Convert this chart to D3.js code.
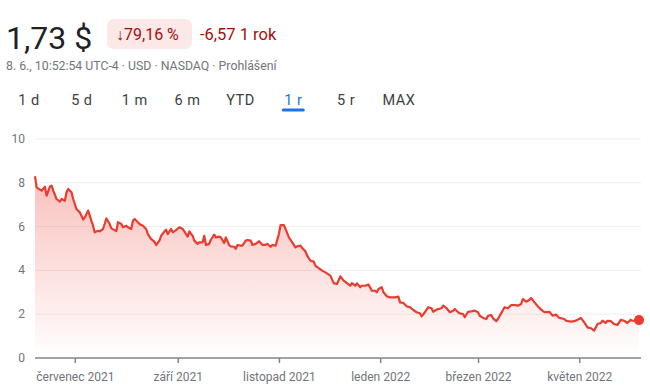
<!DOCTYPE html>
<html>
<head>
<meta charset="utf-8">
<script src="https://cdn.jsdelivr.net/npm/d3@7"></script>
<style>
  body { margin: 0; background: #fff; font-family: Roboto, Arial, sans-serif; }
  svg { display: block; }
</style>
</head>
<body>
<svg id="viewer" width="650" height="389"></svg>
<script>
// price series
var dates = [
  "2021-06-07","2021-06-08","2021-06-10","2021-06-11","2021-06-13","2021-06-14","2021-06-16","2021-06-17","2021-06-18","2021-06-20",
  "2021-06-22","2021-06-23","2021-06-25","2021-06-26","2021-06-27","2021-06-29","2021-06-30","2021-07-02","2021-07-04","2021-07-05",
  "2021-07-06","2021-07-07","2021-07-09","2021-07-10","2021-07-12","2021-07-13","2021-07-15","2021-07-16","2021-07-18","2021-07-19",
  "2021-07-20","2021-07-22","2021-07-23","2021-07-25","2021-07-26","2021-07-27","2021-07-29","2021-07-30","2021-08-01","2021-08-02",
  "2021-08-04","2021-08-05","2021-08-06","2021-08-08","2021-08-09","2021-08-11","2021-08-13","2021-08-14","2021-08-16","2021-08-18",
  "2021-08-19","2021-08-21","2021-08-22","2021-08-24","2021-08-25","2021-08-26","2021-08-28","2021-08-29","2021-08-31","2021-09-02",
  "2021-09-04","2021-09-05","2021-09-07","2021-09-08","2021-09-10","2021-09-11","2021-09-13","2021-09-14","2021-09-16","2021-09-17",
  "2021-09-18","2021-09-20","2021-09-21","2021-09-23","2021-09-24","2021-09-26","2021-09-27","2021-09-29","2021-09-30","2021-10-02",
  "2021-10-03","2021-10-05","2021-10-06","2021-10-07","2021-10-09","2021-10-10","2021-10-12","2021-10-13","2021-10-15","2021-10-16",
  "2021-10-18","2021-10-20","2021-10-22","2021-10-24","2021-10-25","2021-10-27","2021-10-28","2021-10-30","2021-11-01","2021-11-02",
  "2021-11-04","2021-11-05","2021-11-07","2021-11-08","2021-11-09","2021-11-11","2021-11-12","2021-11-14","2021-11-15","2021-11-17",
  "2021-11-18","2021-11-20","2021-11-22","2021-11-23","2021-11-25","2021-11-27","2021-11-29","2021-12-02","2021-12-04","2021-12-06",
  "2021-12-08","2021-12-10","2021-12-12","2021-12-14","2021-12-15","2021-12-17","2021-12-18","2021-12-20","2021-12-21","2021-12-23",
  "2021-12-25","2021-12-27","2021-12-29","2021-12-30","2021-12-31","2022-01-02","2022-01-03","2022-01-05","2022-01-07","2022-01-10",
  "2022-01-12","2022-01-13","2022-01-15","2022-01-17","2022-01-19","2022-01-21","2022-01-23","2022-01-25","2022-01-26","2022-01-28",
  "2022-01-30","2022-02-01","2022-02-02","2022-02-04","2022-02-07","2022-02-08","2022-02-10","2022-02-12","2022-02-14","2022-02-15",
  "2022-02-17","2022-02-18","2022-02-20","2022-02-21","2022-02-23","2022-02-25","2022-02-27","2022-03-01","2022-03-02","2022-03-04",
  "2022-03-06","2022-03-07","2022-03-09","2022-03-10","2022-03-12","2022-03-13","2022-03-15","2022-03-17","2022-03-19","2022-03-21",
  "2022-03-23","2022-03-25","2022-03-27","2022-03-28","2022-03-30","2022-04-01","2022-04-02","2022-04-04","2022-04-06","2022-04-08",
  "2022-04-10","2022-04-13","2022-04-15","2022-04-17","2022-04-19","2022-04-22","2022-04-23","2022-04-26","2022-04-28","2022-04-30",
  "2022-05-02","2022-05-04","2022-05-06","2022-05-08","2022-05-10","2022-05-12","2022-05-14","2022-05-15","2022-05-17","2022-05-18",
  "2022-05-20","2022-05-22","2022-05-24","2022-05-26","2022-05-28","2022-05-30","2022-06-01","2022-06-02","2022-06-04","2022-06-06"
];
var prices = [
  8.30,7.79,7.69,7.64,7.82,7.41,7.82,7.87,7.64,7.26,
  7.14,7.26,7.18,7.57,7.72,7.57,7.26,6.80,6.65,6.50,
  6.32,6.42,6.73,6.50,6.04,5.74,5.81,5.78,5.89,6.12,
  6.38,6.12,5.92,5.84,5.79,6.20,6.12,5.97,6.04,5.97,
  5.89,6.27,6.35,6.20,6.12,6.04,5.89,5.66,5.43,5.31,
  5.16,5.36,5.58,5.78,5.86,5.66,5.89,5.74,5.84,5.97,
  5.89,5.78,5.54,5.78,5.58,5.36,5.21,5.28,5.28,5.58,
  5.16,5.21,5.40,5.63,5.51,5.54,5.51,5.25,5.51,5.16,
  5.10,5.08,4.98,5.16,5.13,5.13,5.36,5.39,5.36,5.16,
  5.21,5.33,5.17,5.17,5.21,5.08,5.16,5.13,5.66,6.07,
  6.07,5.89,5.51,5.40,5.28,5.05,5.10,5.13,5.02,4.87,
  4.67,4.44,4.40,4.21,4.10,3.99,3.91,3.76,3.42,3.38,
  3.73,3.53,3.42,3.30,3.42,3.30,3.41,3.23,3.30,3.30,
  3.35,3.07,3.07,3.00,3.15,3.23,3.00,2.82,2.77,2.77,
  2.80,2.54,2.51,2.36,2.32,2.19,2.09,2.04,1.90,2.09,
  2.32,2.27,2.11,2.21,2.27,2.39,2.28,2.09,2.16,2.24,
  2.09,2.04,2.01,1.86,2.11,2.13,2.16,2.09,1.93,1.83,
  1.78,1.93,1.96,1.81,1.68,1.78,2.05,2.32,2.27,2.42,
  2.42,2.39,2.47,2.69,2.57,2.66,2.74,2.54,2.36,2.21,
  2.09,2.11,1.93,1.98,1.83,1.78,1.70,1.66,1.68,1.75,
  1.83,1.63,1.40,1.36,1.25,1.55,1.60,1.70,1.60,1.70,
  1.68,1.55,1.51,1.74,1.70,1.60,1.74,1.70,1.70,1.73
];

var yTicks = [0, 2, 4, 6, 8, 10];
var xTickDates = ["2021-07-01","2021-09-01","2021-11-01","2022-01-01","2022-03-01","2022-05-01"];
var xTickLabels = ["červenec 2021","září 2021","listopad 2021","leden 2022","březen 2022","květen 2022"];
var ranges = ["1 d","5 d","1 m","6 m","YTD","1 r","5 r","MAX"];
var activeRange = "1 r";

var parse = d3.timeParse("%Y-%m-%d");
var data = dates.map((d, i) => ({ date: parse(d), value: prices[i] }));
var last = data[data.length - 1];

var red = "#ea3b2e";
var svg = d3.select('#viewer');

// header

svg.append("text")
    .attr("x", 6).attr("y", 49)
    .attr("font-size", 32)
    .attr("fill", "#202124")
    .text("1,73 $");

svg.append("rect")
    .attr("x", 107).attr("y", 19)
    .attr("width", 85).attr("height", 30)
    .attr("rx", 7)
    .attr("fill", "#fce8e6");

svg.append("text")
    .attr("x", 116).attr("y", 40)
    .attr("font-size", 16)
    .attr("fill", "#a50e0e")
    .text("↓79,16 %");

svg.append("text")
    .attr("x", 200).attr("y", 40)
    .attr("font-size", 16.5)
    .attr("fill", "#a50e0e")
    .text("-6,57 1 rok");

svg.append("text")
    .attr("x", 6).attr("y", 70)
    .attr("font-size", 12.3)
    .attr("fill", "#70757a")
    .text("8. 6., 10:52:54 UTC-4 · USD · NASDAQ · Prohlášení");

// range tabs

var tabX = d3.scalePoint().domain(ranges).range([29, 399]);

svg.append("g").selectAll("text")
    .data(ranges)
    .enter().append("text")
    .attr("x", d => tabX(d))
    .attr("y", 105)
    .attr("text-anchor", "middle")
    .attr("font-size", 14.5)
    .attr("letter-spacing", 0.5)
    .attr("fill", d => d == activeRange ? "#1a73e8" : "#3c4043")
    .text(d => d);

svg.append("line")
    .attr("x1", tabX(activeRange) - 10).attr("x2", tabX(activeRange) + 10)
    .attr("y1", 110).attr("y2", 110)
    .attr("stroke", "#1a73e8")
    .attr("stroke-width", 3)
    .attr("stroke-linecap", "round");

// chart

var scaleX = d3.scaleTime()
    .domain(d3.extent(data, d => d.date))
    .range([35, 639]);

var scaleY = d3.scaleLinear()
    .domain([0, 10])
    .range([358, 139]);

svg.append("g").selectAll("line")
    .data(yTicks.filter(d => d > 0))
    .enter().append("line")
    .attr("x1", 35).attr("x2", 641)
    .attr("y1", d => scaleY(d)).attr("y2", d => scaleY(d))
    .attr("stroke", "#eeeeee")
    .attr("stroke-width", 1);

svg.append("g").selectAll("text")
    .data(yTicks)
    .enter().append("text")
    .attr("x", 25)
    .attr("y", d => scaleY(d) + 4)
    .attr("text-anchor", "end")
    .attr("font-size", 12)
    .attr("fill", "#70757a")
    .text(d => d);

var grad = svg.append("defs").append("linearGradient")
    .attr("id", "fill")
    .attr("gradientUnits", "userSpaceOnUse")
    .attr("x1", 0).attr("x2", 0)
    .attr("y1", scaleY(d3.max(prices))).attr("y2", scaleY(0));
grad.append("stop").attr("offset", 0).attr("stop-color", red).attr("stop-opacity", 0.32);
grad.append("stop").attr("offset", 1).attr("stop-color", red).attr("stop-opacity", 0);

var area = d3.area()
    .x(d => scaleX(d.date))
    .y0(scaleY(0))
    .y1(d => scaleY(d.value));

var line = d3.line()
    .x(d => scaleX(d.date))
    .y(d => scaleY(d.value));

svg.append("path")
    .datum(data)
    .attr("d", area)
    .attr("fill", "url(#fill)");

svg.append("path")
    .datum(data)
    .attr("d", line)
    .attr("fill", "none")
    .attr("stroke", red)
    .attr("stroke-width", 2.2)
    .attr("stroke-linejoin", "round");

// x axis

let xAxis = d3.axisBottom(scaleX)
    .tickValues(xTickDates.map(parse))
    .tickFormat((d, i) => xTickLabels[i])
    .tickSize(5)
    .tickSizeOuter(0);

let bottomAxis = svg.append("g")
    .attr("transform", `translate(0 ${scaleY(0)})`)
    .call(xAxis);

bottomAxis.select(".domain")
    .attr("d", "M35,0H641")
    .attr("stroke", "#80868b")
    .attr("stroke-width", 1.5);

bottomAxis.selectAll(".tick line")
    .attr("stroke", "#80868b")
    .attr("stroke-width", 1.5);

bottomAxis.selectAll(".tick text")
    .attr("dy", 0)
    .attr("y", 23)
    .attr("font-family", "Roboto, Arial, sans-serif")
    .attr("font-size", 12)
    .attr("fill", "#70757a");

svg.append("circle")
    .attr("cx", scaleX(last.date))
    .attr("cy", scaleY(last.value))
    .attr("r", 5)
    .attr("fill", red);
</script>
</body>
</html>
